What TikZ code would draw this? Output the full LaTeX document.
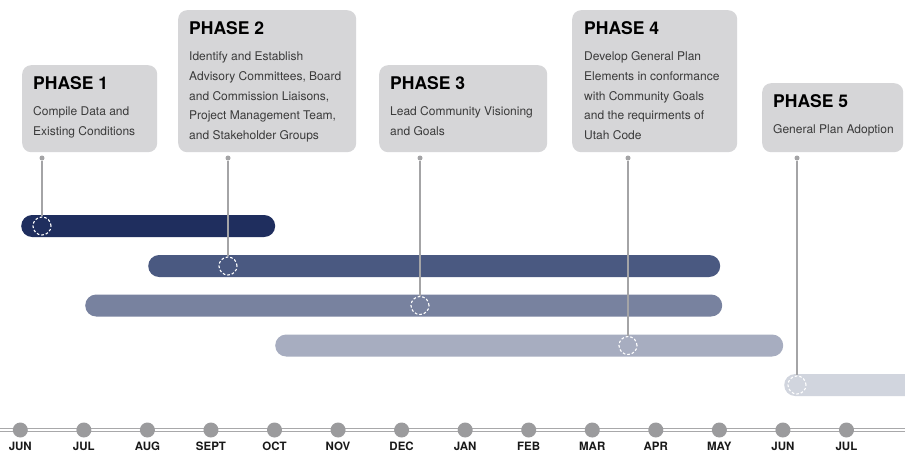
\documentclass[tikz,border=0pt]{standalone}
\usepackage{fontspec}
\setmainfont{TeX Gyre Heros}
\definecolor{boxgray}{HTML}{D6D6D8}
\definecolor{bodygray}{HTML}{3A3A3A}
\definecolor{linegray}{HTML}{A4A4A6}
\definecolor{dotgray}{HTML}{9B9B9D}
\definecolor{tlgray}{HTML}{A8A8AA}
\definecolor{barA}{HTML}{1F2E5E}
\definecolor{barB}{HTML}{4A5981}
\definecolor{barC}{HTML}{78829F}
\definecolor{barD}{HTML}{A7ADC0}
\definecolor{barE}{HTML}{D1D5DE}
\newcommand{\bodytxt}[1]{\parbox[t]{200pt}{\raggedright\fontsize{12}{19.8}\selectfont #1}}
\tikzset{
  phasebox/.style={draw=none, fill=boxgray, rounded corners=9pt, inner sep=0pt, anchor=north west},
  phasetitle/.style={anchor=base west, inner sep=0pt, font=\fontsize{17.5}{20}\selectfont\bfseries, text=black},
  phasebody/.style={anchor=base west, inner sep=0pt, text=bodygray},
  barnode/.style={draw=none, rounded corners=11pt, inner sep=0pt, minimum height=22pt, anchor=west},
  ring/.style={circle, draw=white, dash pattern=on 2.6pt off 2pt, line width=1.1pt, minimum size=18pt, inner sep=0pt},
  pin/.style={circle, fill=linegray, minimum size=5pt, inner sep=0pt},
  conn/.style={draw=linegray, line width=1.4pt},
  month/.style={circle, fill=dotgray, minimum size=15pt, inner sep=0pt},
  monthlabel/.style={anchor=base, inner sep=0pt, font=\fontsize{11.5}{12}\selectfont\bfseries, text=black!90}
}
\begin{document}
\begin{tikzpicture}[x=1pt, y=-1pt]
\clip (0,0) rectangle (905,453);
\fill[white] (0,0) rectangle (905,453);

% Phase boxes
\node[phasebox, minimum width=135pt, minimum height=87pt] (b1) at (22,65) {};
\node[phasebox, minimum width=178pt, minimum height=142pt] (b2) at (178,10) {};
\node[phasebox, minimum width=168pt, minimum height=87pt] (b3) at (379,65) {};
\node[phasebox, minimum width=165pt, minimum height=142pt] (b4) at (572,10) {};
\node[phasebox, minimum width=141pt, minimum height=69pt] (b5) at (762,83) {};

\node[phasetitle] (t1) at (33,89.5) {PHASE 1};
\node[phasebody] (d1) at (33,115.5) {\bodytxt{Compile Data and\\Existing Conditions}};
\node[phasetitle] (t2) at (189,34.5) {PHASE 2};
\node[phasebody] (d2) at (189,60.5) {\bodytxt{Identify and Establish\\Advisory Committees, Board\\and Commission Liaisons,\\Project Management Team,\\and Stakeholder Groups}};
\node[phasetitle] (t3) at (390,89.5) {PHASE 3};
\node[phasebody] (d3) at (390,115.5) {\bodytxt{Lead Community Visioning\\and Goals}};
\node[phasetitle] (t4) at (584,34.5) {PHASE 4};
\node[phasebody] (d4) at (584,60.5) {\bodytxt{Develop General Plan\\Elements in conformance\\with Community Goals\\and the requirments of\\Utah Code}};
\node[phasetitle] (t5) at (773,107.5) {PHASE 5};
\node[phasebody] (d5) at (773,133.5) {\bodytxt{General Plan Adoption}};

% Bars
\node[barnode, fill=barA, minimum width=254pt] (bar1) at (21,226) {};
\node[barnode, fill=barB, minimum width=572pt] (bar2) at (148,266) {};
\node[barnode, fill=barC, minimum width=637pt] (bar3) at (85,305.5) {};
\node[barnode, fill=barD, minimum width=508pt] (bar4) at (275,345.5) {};
\node[barnode, fill=barE, minimum width=160pt] (bar5) at (784,385) {};

% Rings
\node[ring] (c1) at (42,226) {};
\node[ring] (c2) at (228,266) {};
\node[ring] (c3) at (420,305.5) {};
\node[ring] (c4) at (628,345.5) {};
\node[ring] (c5) at (797,385) {};

% Pins and connectors
\node[pin] (p1) at (42,158) {};
\node[pin] (p2) at (228,158) {};
\node[pin] (p3) at (420,158) {};
\node[pin] (p4) at (628,158) {};
\node[pin] (p5) at (797,158) {};
\draw[conn] (p1) -- (c1.north);
\draw[conn] (p2) -- (c2.north);
\draw[conn] (p3) -- (c3.north);
\draw[conn] (p4) -- (c4.north);
\draw[conn] (p5) -- (c5.north);

% Timeline
\coordinate (tlL) at (0,430);
\coordinate (tlR) at (905,430);
\draw[draw=tlgray, line width=0.9pt, double=white, double distance=1.3pt] (tlL) -- (tlR);
\foreach \lab [count=\i from 0] in {JUN,JUL,AUG,SEPT,OCT,NOV,DEC,JAN,FEB,MAR,APR,MAY,JUN,JUL}{
  \pgfmathsetmacro{\mx}{20.3+63.55*\i}
  \node[month] (m\i) at (\mx,430) {};
  \node[monthlabel] (ml\i) at (\mx,450.5) {\lab};
}
\end{tikzpicture}
\end{document}
